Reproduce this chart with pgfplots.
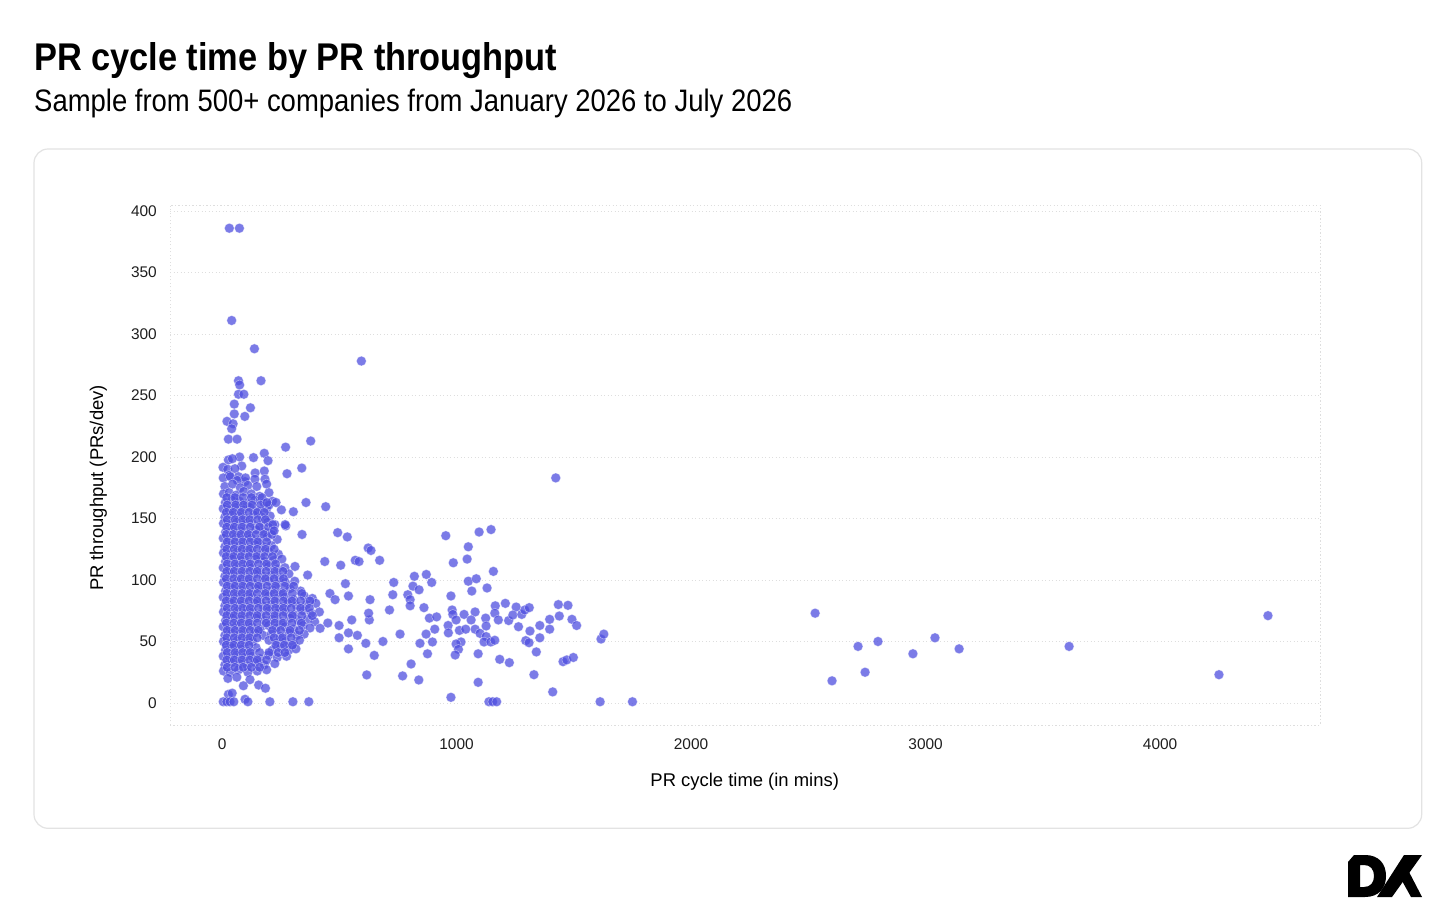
\documentclass[border=0pt]{standalone}
\usepackage{pgfplots}
\pgfplotsset{compat=1.18}
\usepackage{pgfplotstable}
\usepackage{fontspec}
\setmainfont{Liberation Sans}
\definecolor{dxblue}{RGB}{80,80,224}
\definecolor{gridc}{RGB}{222,222,222}

\pgfplotstableread{
x y
31 386
74 386
41 311
138 288
594 278
70 262
75 258.6
166 262
70 251
93 251
52 243
121 240
52 235
97 233
21 229
47 227
41 223
27 214.5
64 214.5
271 208
378 213
75 200
134 199.5
180 203
196 197
27 197.6
44 198.6
4 191.6
84 192.7
24 190
55 190.5
141 187
180 188.6
277 186.4
340 191
30 185
70 184
98 180
183 182
5 183
35 184
65 181
100 183
140 182
12 176
45 178
78 175
110 177
148 176
190 178
6 170
30 171
60 169
92 172
125 170
160 168
200 171
14 163
42 165
75 164
108 162
140 165
178 163
215 164
5 158
30 157
58 159
90 157
120 159
155 156
190 158
12 151
40 153
70 152
100 150
135 153
170 151
205 152
6 146
32 145
62 147
95 145
128 146
160 144
195 147
225 145
15 139
45 141
78 140
110 138
145 141
180 139
215 140
5 134
30 133
60 135
92 133
125 134
158 132
192 135
235 133
12 127
42 129
75 128
108 126
140 129
175 127
210 128
6 122
35 121
65 123
98 121
130 122
165 120
200 123
240 121
15 115
45 117
78 116
110 114
145 117
180 115
220 116
255 117
5 110
32 109
62 111
95 109
128 110
162 108
198 111
235 109
268 110
12 103
42 105
75 104
108 102
140 105
175 103
210 104
245 102
285 105
6 98
35 97
65 99
98 97
130 98
165 96
200 99
235 97
270 98
310 99
15 91
45 93
78 92
110 90
145 93
180 91
215 92
250 90
290 93
335 91
5 86
32 85
62 87
95 85
128 86
162 84
198 87
232 85
268 86
305 84
350 87
385 85
12 79
42 81
75 80
108 78
140 81
175 79
210 80
245 78
280 81
318 79
360 80
400 81
6 74
35 73
65 75
98 73
130 74
165 72
200 75
235 73
270 74
305 72
345 75
380 73
415 74
15 67
45 69
78 68
110 66
145 69
180 67
215 68
250 66
290 69
325 67
365 68
395 66
5 62
32 61
62 63
95 61
128 62
162 60
198 63
232 61
268 62
305 60
345 63
375 61
12 55
42 57
75 56
108 54
140 57
175 55
210 56
248 54
285 57
320 55
350 56
6 50
35 49
65 51
98 49
130 50
200 51
235 49
270 50
305 48
330 51
15 43
45 45
78 44
110 42
145 45
215 43
250 45
285 43
315 44
5 38
32 37
62 39
95 37
128 38
162 36
198 39
235 37
275 38
12 31
42 33
75 32
108 30
140 33
180 31
225 32
6 26
35 25
70 27
110 25
150 26
190 27
20 167
55 167
90 167
125 167
170 167
22 161
58 161
92 161
128 161
165 161
200 161
18 155
48 155
82 155
115 155
150 155
180 155
22 149
55 149
88 149
118 149
152 149
185 149
20 143
52 143
85 143
120 143
160 143
198 143
18 137
48 137
80 137
112 137
145 137
178 137
212 137
22 131
55 131
88 131
120 131
152 131
190 131
20 125
52 125
85 125
118 125
150 125
185 125
222 125
18 119
50 119
82 119
115 119
148 119
182 119
215 119
22 113
55 113
88 113
120 113
155 113
190 113
228 113
20 107
52 107
85 107
118 107
150 107
188 107
225 107
260 107
18 101
50 101
82 101
115 101
150 101
185 101
222 101
262 101
22 95
55 95
88 95
120 95
155 95
192 95
228 95
268 95
305 95
20 89
52 89
85 89
118 89
150 89
185 89
222 89
260 89
300 89
340 89
18 83
50 83
82 83
115 83
150 83
188 83
225 83
262 83
298 83
335 83
375 83
22 77
55 77
88 77
120 77
155 77
192 77
228 77
262 77
295 77
335 77
372 77
20 71
52 71
85 71
118 71
150 71
188 71
225 71
260 71
300 71
340 71
385 71
18 65
50 65
82 65
115 65
150 65
188 65
225 65
260 65
298 65
338 65
22 59
55 59
88 59
120 59
155 59
215 59
250 59
290 59
330 59
20 53
52 53
85 53
118 53
150 53
222 53
258 53
295 53
18 47
50 47
82 47
115 47
230 47
265 47
300 47
22 41
55 41
88 41
120 41
160 41
200 41
240 41
268 41
20 35
52 35
85 35
118 35
150 35
190 35
22 29
55 29
90 29
125 29
160 29
25 20
63 21
119 19
27 7
43 8
91 14
156 14.6
185 12
98 3
5 1
20 1
34 1
50 1
110 1
204 1
302 1
370 1
438 115
493 138.5
534 135
623 126
635 124
672 116
568 116
584 115
506 112
311 111
365 104
526 97
460 89
482 84
539 87
631 84
628 67.5
625 73
732 98
728 88
714 75.6
553 67.5
499 63
451 65
418 60.7
499 53
539 57
577 55
613 48.5
539 44
649 38.7
686 50
617 22.8
358 163
442 159.6
304 155.5
253 157
230 163
191 163
272 144
216 145
341 137
269 145
222 140
1423 183
954 136
1096 139
1147 141
1050 127
1045 117
986 114
1157 107
820 103
871 104.5
894 98
814 95
840 92
1050 99
1084 101
1065 91
1130 93.5
976 87
792 88
802 84
802 79
861 77.5
981 75.6
984 72
884 69
915 70
1032 72
1079 74
998 67.5
1062 67.5
1124 69
1165 79
1163 73
1208 81
1178 67.5
1222 67
1254 78
1240 71.5
1278 72
1291 75.6
1310 77.5
964 63
965 57
1012 59
1039 60
1079 60
1100 56.6
1126 62.6
1126 54
1117 49.6
1146 49.6
1163 51
1019 49.6
998 48
1008 43.6
994 39
1092 40
876 40
897 49.6
844 48.5
907 60
870 56
759 56
806 31.7
770 22
839 18.7
1092 16.8
1184 35.5
1225 32.8
1264 62
1313 58.5
1295 50.7
1309 49
1355 63
1355 53
1340 41.5
1397 68
1397 60
1434 80
1438 70.7
1475 79.4
1492 68
1512 63
1330 23
1410 9
976 4.6
1138 1
1154 1
1171 1
1454 33.6
1470 35
1498 37
1616 52
1628 56
1612 1
1750 1
2529 73
2601 18
2712 46
2742 25
2797 50
2946 40
3040 53
3143 44
3612 46
4251 23
4460 71
}\prdata

\begin{document}
\begin{tikzpicture}[x=1bp,y=1bp]
\path[fill=white] (0,0) rectangle (1456,920);
% title and subtitle
\node[anchor=base west, inner sep=0pt] at (34,849.3) {\resizebox{523bp}{28bp}{\bfseries PR cycle time by PR throughput}};
\node[anchor=base west, inner sep=0pt] at (34,808.3) {\resizebox{758bp}{22.5bp}{Sample from 500+ companies from January 2026 to July 2026}};
% card
\draw[rounded corners=14bp, draw=black!11, line width=1.2bp] (34,91.7) rectangle (1421.7,771);

\begin{axis}[
  at={(170bp,195bp)}, anchor=south west,
  scale only axis, width=1150bp, height=520bp,
  xmin=-222, xmax=4682, ymin=-17.9, ymax=404.9,
  xtick={0,1000,2000,3000,4000},
  ytick={0,50,100,150,200,250,300,350,400},
  scaled ticks=false,
  /pgf/number format/1000 sep={},
  /pgf/number format/assume math mode=true,
  ticklabel style={font=\fontsize{15.5}{18}\selectfont, text=black!88},
  xticklabel style={inner sep=0pt, yshift=-14bp},
  yticklabel style={inner sep=0pt, xshift=-13bp},
  major tick length=0pt,
  tick style={draw=none},
  ymajorgrids,
  grid style={draw=gridc, line width=0.9bp, dash pattern=on 1.2bp off 2.3bp},
  axis line style={draw=gridc, line width=0.9bp, dash pattern=on 1.2bp off 2.3bp},
  clip=false,
]
\addplot[only marks, mark=*, mark size=4.9bp,
  mark options={fill=dxblue, fill opacity=0.75, draw=white, draw opacity=0.5, line width=0.5bp}]
  table[x=x,y=y] {\prdata};
\end{axis}

% axis labels
\node[rotate=90, anchor=center, inner sep=0pt] at (98.4,432) {\fontsize{18.5}{22}\selectfont PR throughput (PRs/dev)};
\node[anchor=base, inner sep=0pt] at (744.7,134) {\fontsize{18.5}{22}\selectfont PR cycle time (in mins)};

% DX logo
\fill[black, even odd rule]
  (1348,23) -- (1348,58) -- (1354,65) -- (1365,65)
  .. controls (1379,65) and (1386,56) .. (1386,44)
  .. controls (1386,32) and (1379,23) .. (1365,23) -- cycle
  (1360,33) -- (1360,55) -- (1364,55)
  .. controls (1370.5,55) and (1374,50.5) .. (1374,44)
  .. controls (1374,37.5) and (1370.5,33) .. (1364,33) -- cycle;
\fill[black] (1404,65) -- (1422,65) -- (1392,23) -- (1377,23) -- cycle;
\fill[black] (1401,41) -- (1408,50) -- (1422,23) -- (1411,23) -- cycle;
\end{tikzpicture}
\end{document}
